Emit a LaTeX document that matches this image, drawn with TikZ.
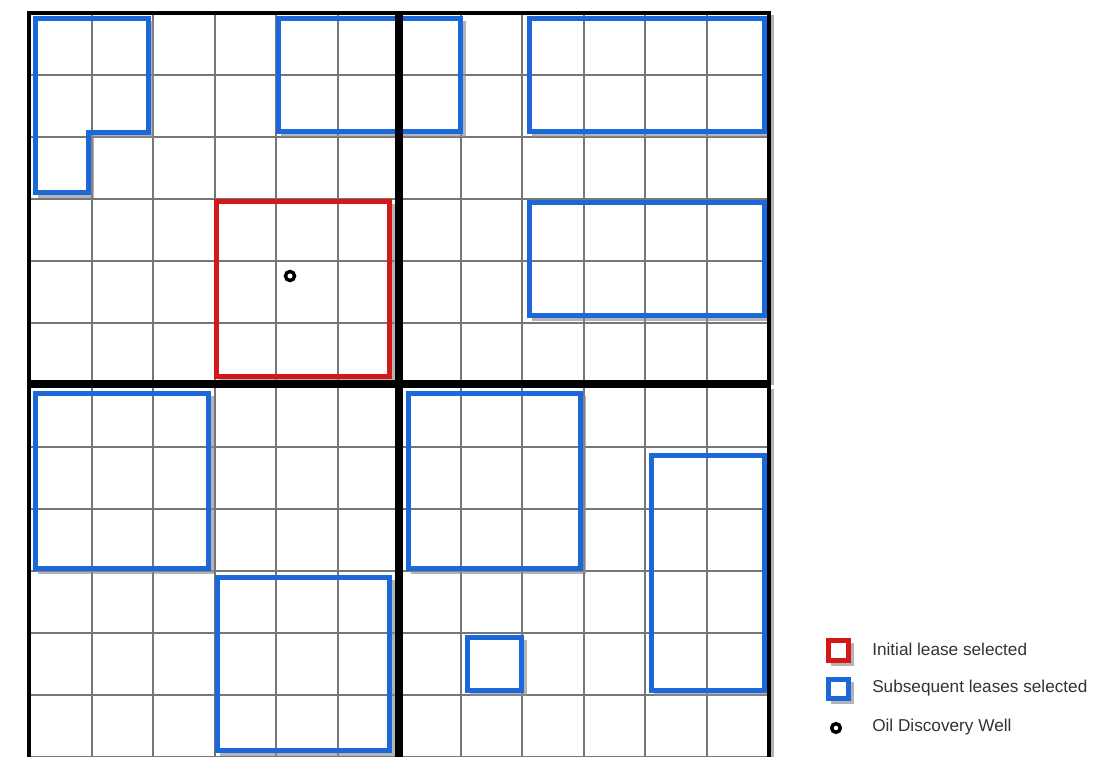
\documentclass[tikz,border=0pt]{standalone}
\usepackage{fontspec}
\setmainfont{Liberation Sans}
\definecolor{leaseblue}{RGB}{28,104,216}
\definecolor{leasered}{RGB}{212,24,24}
\definecolor{gridgray}{RGB}{118,118,118}
\tikzset{
  gridline/.style={draw=gridgray, line width=1.5pt},
  quad/.style={draw=black, line width=2.6pt},
  quadshadow/.style={draw=black!30, line width=2.25pt},
  lease/.style={draw=leaseblue, line width=3.75pt, line join=miter},
  initial/.style={draw=leasered, line width=3.75pt, line join=miter},
  shade/.style={draw=black!45, line width=3.75pt, opacity=0.65, line join=miter},
  well/.style={draw=black, line width=2.6pt},
  legtext/.style={anchor=west, font=\fontsize{12.9pt}{15pt}\selectfont, text=black!80, inner sep=0pt},
}
\begin{document}
\begin{tikzpicture}[x=0.75pt,y=-0.75pt]
\useasboundingbox (0,0) rectangle (1108,757);
\fill[white] (0,0) rectangle (1108,757);
% grid
\foreach \i in {0,...,12} {
  \draw[gridline] ({30+61.5*\i},13) -- ({30+61.5*\i},760);
  \draw[gridline] (30,{13+62*\i}) -- (768,{13+62*\i});
}
% quadrant shadows
\draw[quadshadow] (400,15) -- (400,385);
\draw[quadshadow] (772,15) -- (772,385);
\draw[quadshadow] (772,389) -- (772,760);
% shadows of leases (right and bottom sides only)
\begin{scope}[shift={(3,3)}]
\draw[shade] (148,18) -- (148,132) -- (88,132) -- (88,192) -- (35,192);
\draw[shade] (460,18) -- (460,131) -- (278,131);
\draw[shade] (764,18) -- (764,131) -- (529,131);
\draw[shade] (764,202) -- (764,315) -- (529,315);
\draw[shade] (208,393) -- (208,568) -- (35,568);
\draw[shade] (389,577) -- (389,750) -- (217,750);
\draw[shade] (580,393) -- (580,568) -- (408,568);
\draw[shade] (764,455) -- (764,690) -- (651,690);
\draw[shade] (521,637) -- (521,690) -- (467,690);
\draw[shade] (389,201) -- (389,376) -- (216,376);
\draw[shade] (848,640) -- (848,660) -- (828,660);
\draw[shade] (848,679) -- (848,698) -- (828,698);
\end{scope}
% leases
\draw[lease] (35,18) -- (148,18) -- (148,132) -- (88,132) -- (88,192) -- (35,192) -- cycle;
\draw[lease] (278,18) rectangle (460,131);
\draw[lease] (529,18) rectangle (764,131);
\draw[lease] (529,202) rectangle (764,315);
\draw[lease] (35,393) rectangle (208,568);
\draw[lease] (217,577) rectangle (389,750);
\draw[lease] (408,393) rectangle (580,568);
\draw[lease] (651,455) rectangle (764,690);
\draw[lease] (467,637) rectangle (521,690);
\draw[initial] (216,201) rectangle (389,376);
% quadrants
\draw[quad] (29,13) rectangle (397,382);
\draw[quad] (401,13) rectangle (769,382);
\draw[quad] (29,386) rectangle (397,762);
\draw[quad] (401,386) rectangle (769,762);
% oil well
\draw[well] (290,276) circle (4.5);
% legend
\draw[initial] (828,640) rectangle (848,660);
\draw[lease] (828,679) rectangle (848,698);
\draw[well] (836,728) circle (4.3);
\node[legtext] (l1) at (872,649) {Initial lease selected};
\node[legtext] (l2) at (872,688) {Subsequent leases selected};
\node[legtext] (l3) at (872,727) {Oil Discovery Well};
\end{tikzpicture}
\end{document}
